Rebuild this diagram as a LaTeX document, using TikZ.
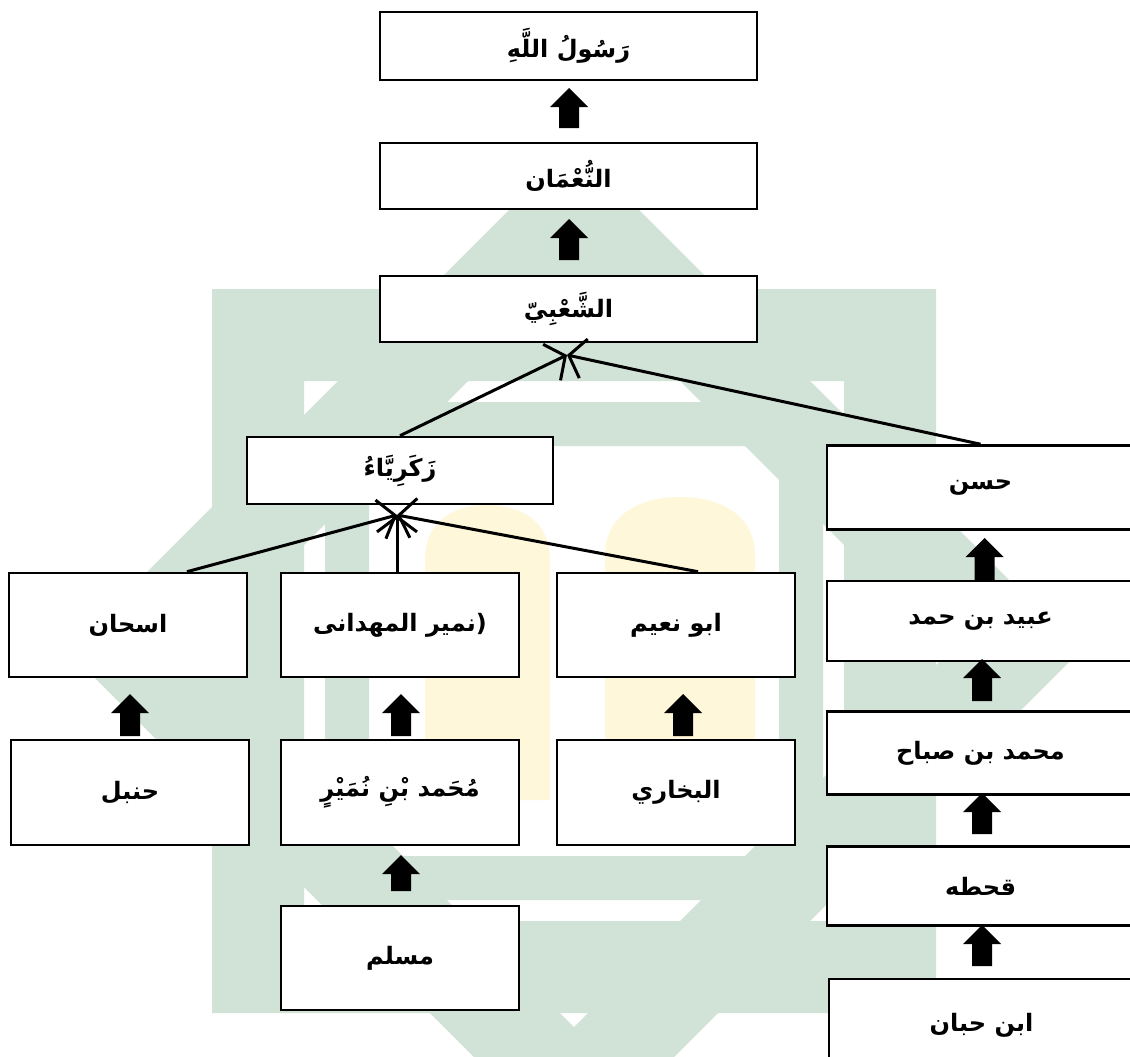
\documentclass[tikz,border=0pt]{standalone}
\usepackage{fontspec}
\TeXXeTstate=1
\newfontfamily\arabicfont[Script=Arabic]{DejaVu Sans}
\usetikzlibrary{arrows.meta}
\definecolor{wmgreen}{RGB}{209,226,215}
\definecolor{wmyellow}{RGB}{255,247,218}
\newcommand\wmsq[1]{({574-#1},{651-#1}) rectangle ({574+#1},{651+#1})}
\newcommand\wmdia[1]{(574,{651-#1}) -- ({574+#1},651) -- (574,{651+#1}) -- ({574-#1},651) -- cycle}
\newcommand\blkarrow[3]{\fill (#1,#2) -- ({#1+19},{#2+19}) -- ({#1+10},{#2+19}) -- ({#1+10},#3)
  -- ({#1-10},#3) -- ({#1-10},{#2+19}) -- ({#1-19},{#2+19}) -- cycle;}
\begin{document}
\begin{tikzpicture}[x=1pt,y=-1pt,
  box/.style={draw=black,line width=2.6pt,fill=white,inner sep=0pt,
    font=\arabicfont\bfseries\fontsize{24}{28}\selectfont},
  conn/.style={line width=3pt,-{Straight Barb[length=15pt,width=40pt]}}]
\useasboundingbox (0,0) rectangle (1130,1057);
\fill[white] (0,0) rectangle (1130,1057);
% watermark
\fill[wmgreen,even odd rule] \wmsq{362} \wmsq{270} \wmsq{249} \wmsq{205};
\fill[wmgreen,even odd rule] \wmdia{506} \wmdia{376};
\fill[wmyellow] (425,800) -- (425,560) .. controls (425,520) and (455,505) .. (487,505)
  .. controls (520,505) and (550,520) .. (550,560) -- (550,800) -- cycle;
\fill[wmyellow] (605,790) -- (605,555) .. controls (605,515) and (640,497) .. (680,497)
  .. controls (720,497) and (755,515) .. (755,555) -- (755,790) -- cycle;
% boxes
\node[box,minimum width=377pt,minimum height=68pt] (rasul) at (568.5,46) {\beginR رَسُولُ اللَّهِ\endR};
\node[box,minimum width=377pt,minimum height=66pt] (numan) at (568.5,176) {\beginR النُّعْمَان\endR};
\node[box,minimum width=377pt,minimum height=66pt] (shabi) at (568.5,309) {\beginR الشَّعْبِيّ\endR};
\node[box,minimum width=306pt,minimum height=67pt] (zak) at (400,470.5) {\beginR زَكَرِيَّاءُ\endR};
\node[box,minimum width=307pt,minimum height=84pt] (hasan) at (980.5,487.5) {\beginR حسن\endR};
\node[box,minimum width=307pt,minimum height=80pt] (ubaid) at (980.5,621) {\beginR عبيد بن حمد\endR};
\node[box,minimum width=307pt,minimum height=83pt] (mbs) at (980.5,753) {\beginR محمد بن صباح\endR};
\node[box,minimum width=307pt,minimum height=79pt] (qahtah) at (980.5,886) {\beginR قحطه\endR};
\node[box,minimum width=305pt,minimum height=92pt] (ibnh) at (981.5,1025) {\beginR ابن حبان\endR};
\node[box,minimum width=238pt,minimum height=104pt] (ishan) at (128,625) {\beginR اسحان\endR};
\node[box,minimum width=238pt,minimum height=104pt] (numair) at (400,625) {\beginR نمير المهدانى\endR(};
\node[box,minimum width=238pt,minimum height=104pt] (abun) at (676,625) {\beginR ابو نعيم\endR};
\node[box,minimum width=238pt,minimum height=105pt] (hanbal) at (130,792.5) {\beginR حنبل\endR};
\node[box,minimum width=238pt,minimum height=105pt] (mbn) at (400,792.5) {\beginR مُحَمد بْنِ نُمَيْرٍ\endR};
\node[box,minimum width=238pt,minimum height=105pt] (bukhari) at (676,792.5) {\beginR البخاري\endR};
\node[box,minimum width=238pt,minimum height=104pt] (muslim) at (400,958) {\beginR مسلم\endR};
% thin connectors
\coordinate (t1) at (567,355);
\coordinate (t2) at (397,515);
\draw[conn] (zak.north) -- (t1);
\draw[conn] (hasan.north) -- (t1);
\draw[conn] ([xshift=59pt]ishan.north) -- (t2);
\draw[conn] ([xshift=-3pt]numair.north) -- (t2);
\draw[conn] ([xshift=22pt]abun.north) -- (t2);
% block arrows
\blkarrow{569}{88}{128}
\blkarrow{569}{219}{260}
\blkarrow{130}{694}{736}
\blkarrow{401}{694}{736}
\blkarrow{683}{694}{736}
\blkarrow{401}{855}{891}
\blkarrow{984.5}{538}{580}
\blkarrow{982}{659}{701}
\blkarrow{982}{793}{834}
\blkarrow{982}{925}{966}
\end{tikzpicture}
\end{document}
